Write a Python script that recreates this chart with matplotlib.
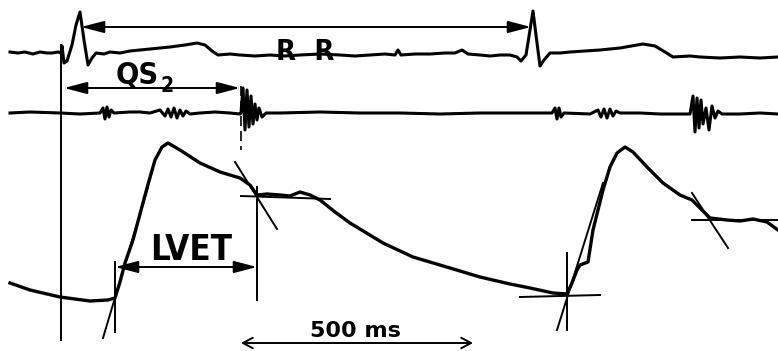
import matplotlib
matplotlib.use("Agg")
import matplotlib.pyplot as plt

# ---- ECG trace (time in px-units, amplitude in px-units, y down) ----
ecg_x = [10, 18, 25, 33, 40, 47, 52, 58, 61, 62, 64, 67, 72, 76, 80, 84, 88, 92, 96, 104, 110, 120,
         130, 150, 170, 185, 197, 205, 212, 218, 230, 240, 255, 270, 285, 300, 320, 340, 355, 370,
         385, 395, 398, 401, 415, 430, 445, 455, 462, 468, 480, 490, 500, 510, 517,
         521, 526, 530, 533, 536, 540, 544, 550, 560, 570, 585, 600, 620, 643, 655, 665, 673, 690,
         700, 720, 740, 760, 778]
ecg_y = [52, 53, 52, 54, 52, 53, 53, 52, 53, 46, 63, 61, 45, 25, 12, 40, 65, 58, 53, 54, 52, 53,
         51, 49, 47, 45, 43, 45, 51, 55, 54, 55, 56, 55, 56, 55, 54, 55, 56, 55,
         54, 55, 50, 55, 54, 54, 53, 53, 50, 54, 55, 56, 55, 55, 57,
         61, 55, 30, 11, 35, 66, 60, 53, 53, 52, 51, 50, 48, 44, 46, 52, 57, 56,
         57, 58, 57, 58, 57]

# ---- Phonocardiogram trace ----
phono_x = [10, 30, 60, 80, 100, 103, 105, 107, 109, 111, 114, 130, 140, 150, 160, 165, 168, 171,
           174, 177, 180, 183, 186, 190, 200, 215, 230, 240, 241, 243, 245, 247, 249, 251, 253,
           255, 257, 259, 262, 266, 280, 320, 360, 400, 440, 480, 520, 552, 555, 557, 559, 561,
           564, 590, 598, 601, 604, 607, 610, 613, 616, 620, 640, 660, 690, 693, 695, 697, 699,
           701, 703, 706, 709, 712, 715, 718, 722, 740, 760, 778]
phono_y = [113, 112, 113, 114, 113, 108, 119, 107, 117, 110, 113, 112, 112, 113, 110, 116, 109, 117,
           108, 118, 110, 116, 111, 114, 113, 112, 113, 114, 113, 88, 130, 90, 127, 96, 124,
           104, 120, 108, 117, 113, 113, 112, 113, 113, 114, 113, 113, 113, 108, 119, 108, 117,
           113, 114, 110, 117, 109, 118, 109, 116, 111, 113, 113, 114, 114, 96, 132, 98, 128,
           100, 124, 108, 130, 106, 118, 111, 114, 114, 113, 114]

# ---- Carotid pulse trace ----
pulse_x = [10, 30, 60, 90, 108, 115, 120, 125, 133, 147, 155, 162, 168, 180, 200, 220, 240, 250,
           257, 267, 280, 290, 300, 310, 320, 335, 350, 383, 413, 450, 480, 510, 530, 553, 567,
           572, 577, 580, 588, 593, 603, 610, 617, 625, 633, 647, 663, 680, 692, 700, 710, 727,
           740, 753, 767, 778]
pulse_y = [283, 290, 297, 301, 300, 298, 282, 263, 240, 188, 160, 147, 143, 150, 163, 172, 178, 185,
           195, 194, 195, 196, 192, 195, 200, 212, 223, 243, 257, 268, 277, 284, 288, 293, 294,
           283, 270, 265, 262, 230, 190, 167, 153, 147, 152, 167, 183, 195, 200, 208, 218, 220,
           221, 219, 222, 230]

# ---- Construction lines (x0, y0, x1, y1) ----
lines_x0 = [61, 103, 115, 257, 241, 235, 520, 567, 557, 692, 692]
lines_y0 = [45, 338, 262, 187, 196, 162, 297, 253, 330, 220, 193]
lines_x1 = [61, 148, 115, 257, 330, 277, 600, 567, 603, 778, 728]
lines_y1 = [340, 187, 332, 300, 199, 229, 295, 330, 183, 220, 248]

# ---- Interval arrows ----
arrow_names = ["RR", "QS2", "LVET"]
arrow_x0 = [81, 64, 115]
arrow_x1 = [531, 240, 257]
arrow_y = [27, 88, 267]
scale_x0, scale_x1, scale_y = 241, 473, 343

fig = plt.figure(figsize=(7.78, 3.51), dpi=100)
ax = fig.add_axes([0, 0, 1, 1])
ax.set_xlim(0, 778)
ax.set_ylim(351, 0)
ax.axis("off")

ax.plot(ecg_x, ecg_y, color="black", lw=2.2, solid_joinstyle="round")
ax.plot(phono_x, phono_y, color="black", lw=2.2, solid_joinstyle="round")
ax.plot(pulse_x, pulse_y, color="black", lw=2.4, solid_joinstyle="round")

for x0, y0, x1, y1 in zip(lines_x0, lines_y0, lines_x1, lines_y1):
    ax.plot([x0, x1], [y0, y1], color="black", lw=1.4)

# dashed marker under S2
ax.plot([241, 241], [86, 150], color="black", lw=1.2, ls=(0, (6, 3)))

for x0, x1, y in zip(arrow_x0, arrow_x1, arrow_y):
    ax.annotate("", xy=(x1, y), xytext=(x0, y),
                arrowprops=dict(arrowstyle="<|-|>,head_length=1.0,head_width=0.26",
                                color="black", lw=1.4, mutation_scale=14,
                                shrinkA=0, shrinkB=0))

ax.annotate("", xy=(scale_x1, scale_y), xytext=(scale_x0, scale_y),
            arrowprops=dict(arrowstyle="<->,head_length=0.5,head_width=0.27",
                            color="black", lw=1.4, mutation_scale=14,
                            shrinkA=0, shrinkB=0))

ax.text(305, 52, "R  R", fontsize=21, fontweight="bold", family="DejaVu Sans",
        fontstretch="condensed", ha="center", va="center")
ax.text(137, 76, "QS", fontsize=22, fontweight="bold", family="DejaVu Sans",
        fontstretch="condensed", ha="center", va="center")
ax.text(167, 86, "2", fontsize=15, fontweight="bold", family="DejaVu Sans",
        fontstretch="condensed", ha="center", va="center")
ax.text(191, 250, "LVET", fontsize=25, fontweight="bold", family="DejaVu Sans",
        fontstretch="condensed", ha="center", va="center")
ax.text(355, 331, "500 ms", fontsize=16, fontweight="semibold", family="DejaVu Sans",
        ha="center", va="center")

fig.savefig("out.png", dpi=100)
